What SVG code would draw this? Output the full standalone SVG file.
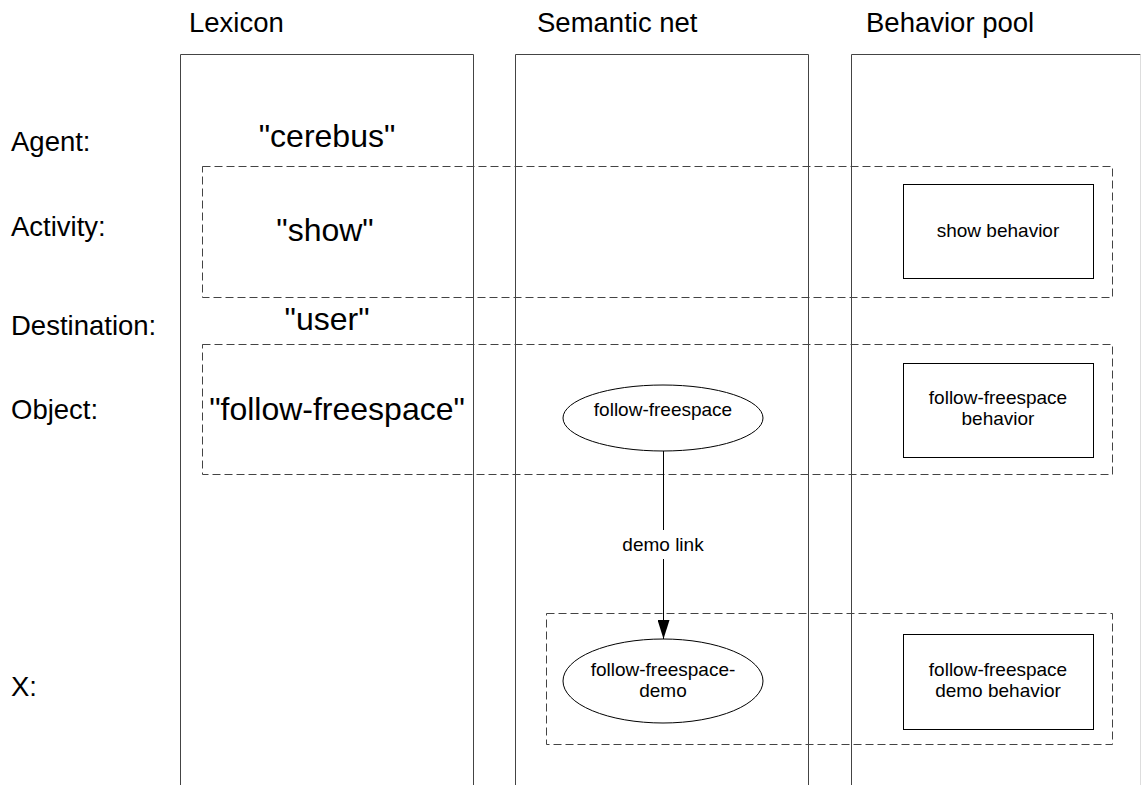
<svg xmlns="http://www.w3.org/2000/svg" width="1144" height="785" viewBox="0 0 1144 785">
  <style>
    text { font-family: "Liberation Sans", Arial, sans-serif; fill: #000; }
    .hdr { font-size: 27.5px; }
    .row { font-size: 27.5px; }
    .lex { font-size: 32px; text-anchor: middle; }
    .sm { font-size: 19px; text-anchor: middle; }
    .col { fill: none; stroke: #444; stroke-width: 1; }
    .grp { fill: none; stroke: #444; stroke-width: 1; stroke-dasharray: 8 4; }
    .node { fill: #fff; stroke: #000; stroke-width: 1; }
    .edge { fill: none; stroke: #000; stroke-width: 1; }
  </style>
  <defs>
    <marker id="arrow" markerWidth="19" markerHeight="12" refX="19" refY="6" orient="auto" markerUnits="userSpaceOnUse" viewBox="0 0 19 12">
      <path d="M0,0 L19,6 L0,12 Z" fill="#000"/>
    </marker>
  </defs>
  <rect width="1144" height="785" fill="#fff"/>

  <!-- column headers -->
  <g id="headers">
    <text class="hdr" x="189" y="32">Lexicon</text>
    <text class="hdr" x="537" y="32">Semantic net</text>
    <text class="hdr" x="866" y="32">Behavior pool</text>
  </g>

  <!-- columns (open at the bottom) -->
  <g id="columns">
    <path class="col" d="M180.5,785 V54.5 H473.5 V785"/>
    <path class="col" d="M515.5,785 V54.5 H808.5 V785"/>
    <path class="col" d="M851.5,785 V54.5 H1140.5"/>
    <path d="M1140.5,54.5 V785" fill="none" stroke="#ddd" stroke-width="1"/>
  </g>

  <!-- role labels -->
  <g id="roles">
    <text class="row" x="11" y="151">Agent:</text>
    <text class="row" x="11" y="236">Activity:</text>
    <text class="row" x="11" y="335">Destination:</text>
    <text class="row" x="11" y="419">Object:</text>
    <text class="row" x="11" y="696">X:</text>
  </g>

  <!-- grouping frames -->
  <g id="frames">
    <rect class="grp" x="202.5" y="166.5" width="910" height="131"/>
    <rect class="grp" x="202.5" y="344.5" width="910" height="130"/>
    <rect class="grp" x="546.5" y="613.5" width="566" height="131"/>
  </g>

  <!-- lexicon entries -->
  <g id="lex-cerebus"><text class="lex" x="327" y="147">"cerebus"</text></g>
  <g id="lex-show"><text class="lex" x="325" y="241">"show"</text></g>
  <g id="lex-user"><text class="lex" x="327" y="330">"user"</text></g>
  <g id="lex-follow-freespace"><text class="lex" x="337" y="420">"follow-freespace"</text></g>

  <!-- semantic net concepts -->
  <g id="concept-follow-freespace">
    <ellipse class="node" cx="663" cy="418" rx="100" ry="33"/>
    <text class="sm" x="663" y="416">follow-freespace</text>
  </g>
  <g id="concept-follow-freespace-demo">
    <ellipse class="node" cx="663" cy="681" rx="100" ry="42"/>
    <text class="sm" x="663" y="676">follow-freespace-</text>
    <text class="sm" x="663" y="697">demo</text>
  </g>

  <!-- behaviors -->
  <g id="beh-show">
    <rect class="node" x="903.5" y="184.5" width="190" height="94"/>
    <text class="sm" x="998" y="237">show behavior</text>
  </g>
  <g id="beh-follow-freespace">
    <rect class="node" x="903.5" y="363.5" width="190" height="94"/>
    <text class="sm" x="998" y="404">follow-freespace</text>
    <text class="sm" x="998" y="425">behavior</text>
  </g>
  <g id="beh-follow-freespace-demo">
    <rect class="node" x="903.5" y="634.5" width="190" height="95"/>
    <text class="sm" x="998" y="676">follow-freespace</text>
    <text class="sm" x="998" y="697">demo behavior</text>
  </g>

  <!-- connectors -->
  <g id="connectors">
    <path class="edge" d="M663.5,451 V530"/>
    <path class="edge" d="M663.5,559 V639" marker-end="url(#arrow)"/>
    <text class="sm" x="663" y="551">demo link</text>
  </g>
</svg>
